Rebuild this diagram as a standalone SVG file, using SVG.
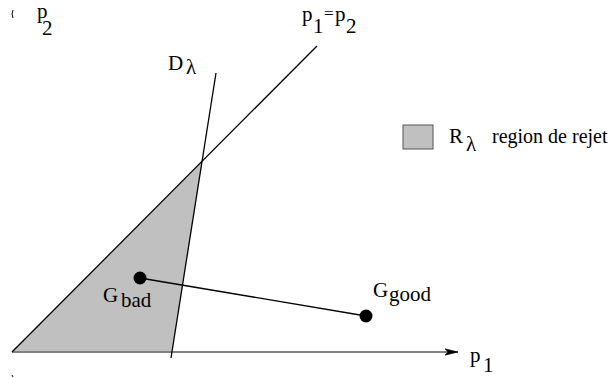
<svg xmlns="http://www.w3.org/2000/svg" width="614" height="378" viewBox="0 0 614 378">
<style>
text{font-family:"Liberation Serif","Times New Roman",serif;font-size:21px;fill:#000}
.ln{stroke:#000;stroke-width:1.3;fill:none}
</style>
<defs>
<marker id="ah" markerWidth="14" markerHeight="8" refX="13" refY="4" orient="auto" markerUnits="userSpaceOnUse">
<path d="M0,0.8 L13,4 L0,7.2 L3,4 Z" fill="#000" stroke="#000" stroke-width="0.6"/>
</marker>
</defs>
<rect width="614" height="378" fill="#fff"/>
<g id="region">
<polygon points="12,352 202,162 172,352" fill="#c0c0c0"/>
</g>
<g id="connectors">
<line x1="12" y1="352" x2="458" y2="352" stroke="#808080" stroke-width="2" marker-end="url(#ah)"/>
<line class="ln" x1="12" y1="352" x2="317" y2="46"/>
<line class="ln" x1="216" y1="73" x2="171" y2="358"/>
<line class="ln" x1="140" y1="278" x2="366" y2="316"/>
<path d="M13,10 Q11,14 13,18" stroke="#000" stroke-width="1" fill="none"/>
<line x1="12" y1="375" x2="13" y2="377" stroke="#000" stroke-width="1"/>
</g>
<g id="axis-p2"><text x="37" y="18">p<tspan x="42" y="35">2</tspan></text></g>
<g id="axis-p1"><text x="470" y="362">p</text><text x="483" y="372">1</text></g>
<g id="diag-label"><text x="302" y="21">p</text><text x="313" y="33">1</text><text x="324" y="19" style="font-size:17px">=</text><text x="335" y="21">p</text><text x="346" y="33">2</text></g>
<g id="D-label"><text x="168" y="70">D</text><text x="186" y="74">λ</text></g>
<g id="legend">
<rect x="403" y="125" width="30" height="24" fill="#c0c0c0" stroke="#555" stroke-width="1"/>
<text x="449" y="143">R</text><text x="466" y="151">λ</text>
<text x="492" y="143" style="font-size:20px">region de rejet</text>
</g>
<g id="G-bad">
<circle cx="140" cy="278" r="6.5" fill="#000"/>
<text x="103" y="302">G</text><text x="121" y="307">bad</text>
</g>
<g id="G-good">
<circle cx="366" cy="316" r="6.5" fill="#000"/>
<text x="373" y="297">G</text><text x="389" y="301">good</text>
</g>
</svg>
